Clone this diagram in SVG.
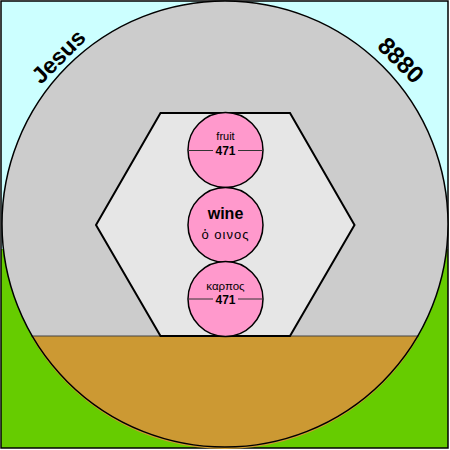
<svg xmlns="http://www.w3.org/2000/svg" width="450" height="450" viewBox="0 0 450 450">
<style>
.bold{font-family:"Liberation Sans",Arial,sans-serif;font-weight:bold;fill:#000}
.reg{font-family:"Liberation Sans",Arial,sans-serif;fill:#000}
.ball{fill:#FF99CC;stroke:#000;stroke-width:1.5}
.mid{stroke:#333;stroke-width:1}
</style>
<g id="background">
<rect x="1" y="1" width="447" height="249" fill="#CCFFFF"/>
<rect x="1" y="249" width="447" height="199" fill="#66CC00"/>
<rect x="1" y="1" width="447" height="447" fill="none" stroke="#000" stroke-width="1.5"/>
</g>
<g id="world">
<circle cx="225" cy="224" r="223" fill="#CCCCCC"/>
<path d="M31,336 A223,223 0 0 0 419,336 Z" fill="#CC9933"/>
<line x1="31" y1="336" x2="419" y2="336" stroke="#444" stroke-width="1"/>
<circle cx="225" cy="224" r="223" fill="none" stroke="#000" stroke-width="1.5"/>
</g>
<g id="hexagon">
<polygon points="160.5,113 290,113 354.5,225 290,336 160.5,336 96,225" fill="#E6E6E6" stroke="#000" stroke-width="2"/>
</g>
<g id="labels">
<text class="bold" font-size="23" text-anchor="middle" transform="translate(64,62) rotate(-45)">Jesus</text>
<text class="bold" font-size="24" text-anchor="middle" transform="translate(395,66) rotate(45)">8880</text>
</g>
<g id="fruit">
<circle class="ball" cx="225.5" cy="150" r="37.5"/>
<line class="mid" x1="188" y1="150.5" x2="213" y2="150.5"/>
<line class="mid" x1="238" y1="150.5" x2="263" y2="150.5"/>
<text class="reg" font-size="11" x="225.5" y="139.5" text-anchor="middle">fruit</text>
<text class="bold" font-size="12" x="225.5" y="154.5" text-anchor="middle">471</text>
</g>
<g id="wine">
<circle class="ball" cx="225.5" cy="225" r="37.5"/>
<text class="bold" font-size="16" x="225.5" y="218.5" text-anchor="middle">wine</text>
<text class="reg" font-size="13" x="225.5" y="239" text-anchor="middle" letter-spacing="1">ὁ οινος</text>
</g>
<g id="karpos">
<circle class="ball" cx="225.5" cy="299" r="37.5"/>
<line class="mid" x1="188" y1="299" x2="213" y2="299"/>
<line class="mid" x1="238" y1="299" x2="263" y2="299"/>
<text class="reg" font-size="11.5" x="225.5" y="289.5" text-anchor="middle">καρπος</text>
<text class="bold" font-size="12" x="225.5" y="304" text-anchor="middle">471</text>
</g>
</svg>
